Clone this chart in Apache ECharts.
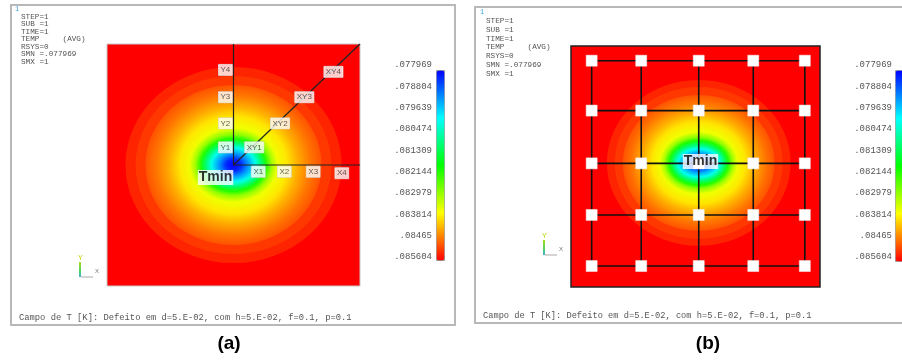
<!DOCTYPE html>
<html>
<head>
<meta charset="utf-8">
<script src="https://cdn.jsdelivr.net/npm/echarts@6/dist/echarts.min.js"></script>
<style>
  html, body { margin: 0; padding: 0; background: #fff; }
  #chart { width: 902px; height: 360px; }
</style>
</head>
<body>
<div id="chart"></div>
<script>
// Temperature scale of both contour plots
const tempMin = 0.077969;
const tempMax = 0.085604;
const scaleLabels = ['.077969', '.078804', '.079639', '.080474', '.081309',
                     '.082144', '.082979', '.083814', '.08465', '.085604'];
const palette = ['#0000ff', '#0080ff', '#00ffff', '#00ff80', '#00ff00',
                 '#80ff00', '#ffff00', '#ff8000', '#ff0000'];

// Iso-temperature levels shared by both cases (outermost first)
const ringTemp = [0.085337, 0.085184, 0.084993, 0.084726, 0.084306, 0.083886, 0.083581,
                  0.082932, 0.082016, 0.081023, 0.080030, 0.079038, 0.078274];
// 1 = colour blends from the next inner level, 0 = flat band
const ringBlend = [0, 0, 1, 1, 1, 1, 1, 1, 1, 1, 1, 1, 1];

// Case (a): ring half-axes (plate coordinates, % of side)
const centerA = [50, 50];
const ringRxA = [42.7, 38.7, 34.8, 30.4, 25.3, 21.3, 17.4, 15.0, 13.0, 11.1, 8.7, 5.5, 2.8];
const ringRyA = [40.5, 36.8, 33.1, 28.9, 24.0, 19.8, 15.3, 12.8, 10.7, 9.1, 7.0, 4.5, 2.5];

// Case (a): probe lines from the minimum and their probe points
const probeEndsA = [[50, 100], [100, 50], [100, 100]];
const probeNamesA = ['Y1', 'Y2', 'Y3', 'Y4', 'X1', 'X2', 'X3', 'X4', 'XY1', 'XY2', 'XY3', 'XY4'];
const probeXA = [46.8, 46.8, 46.8, 46.8, 59.8, 70.1, 81.5, 92.8, 58.2, 68.4, 78.0, 89.5];
const probeYA = [57.3, 67.2, 78.0, 89.3, 47.2, 47.2, 47.2, 46.6, 57.3, 67.2, 78.0, 88.5];
const tminA = [42.9, 44.8];

// Case (b): ring half-axes
const centerB = [51.3, 51.5];
const ringRxB = [36.9, 33.7, 30.5, 26.9, 22.5, 18.9, 15.7, 13.7, 12.0, 10.4, 8.4, 5.2, 2.4];
const ringRyB = [34.4, 31.5, 28.2, 24.5, 20.3, 16.6, 12.9, 10.8, 9.1, 7.5, 5.8, 3.7, 2.1];

// Case (b): 5x5 probe grid
const gridXB = [8.3, 28.2, 51.3, 73.2, 93.9];
const gridYB = [8.7, 29.9, 51.3, 73.2, 93.9];
const tminB = [52.0, 52.1];

const infoLines = ['STEP=1', 'SUB =1', 'TIME=1', 'TEMP     (AVG)', 'RSYS=0', 'SMN =.077969', 'SMX =1'];
const caption = 'Campo de T [K]: Defeito em d=5.E-02, com h=5.E-02, f=0.1, p=0.1';

function tempColor(t) {
  const n = Math.max(0, Math.min(1, (t - tempMin) / (tempMax - tempMin)));
  return echarts.color.lerp(n, palette);
}

// Each ring: [cx, cy, rx, ry, outer temp, inner temp, inner stop]
function ringItems(center, rx, ry, temps, blend) {
  return rx.map(function (r, i) {
    const hasInner = i + 1 < rx.length;
    const innerT = blend[i] ? (hasInner ? temps[i + 1] : tempMin) : temps[i];
    const stop = blend[i] && hasInner ? (ry[i + 1] / ry[i] + rx[i + 1] / r) / 2 : 0;
    return [center[0], center[1], r, ry[i], temps[i], innerT, stop];
  });
}

function renderRing(params, api) {
  const c = api.coord([api.value(0), api.value(1)]);
  const s = api.size([api.value(2), api.value(3)]);
  return {
    type: 'circle',
    x: c[0], y: c[1],
    scaleX: s[0] / s[1],
    shape: { cx: 0, cy: 0, r: s[1] },
    style: {
      fill: {
        type: 'radial', x: 0.5, y: 0.5, r: 0.5,
        colorStops: [
          { offset: api.value(6), color: tempColor(api.value(5)) },
          { offset: 1, color: tempColor(api.value(4)) }
        ]
      }
    },
    silent: true
  };
}

const monoFont = '"Liberation Mono", "DejaVu Sans Mono", monospace';
const sansFont = '"Liberation Sans", Arial, sans-serif';

function hiddenValueAxis(gridIndex) {
  return { type: 'value', gridIndex: gridIndex, min: 0, max: 100, show: false };
}

function scaleAxis(gridIndex) {
  return {
    type: 'category', gridIndex: gridIndex, data: scaleLabels, inverse: true,
    boundaryGap: false,
    axisLine: { show: false }, axisTick: { show: false }, splitLine: { show: false },
    axisLabel: { interval: 0, margin: 1, fontFamily: monoFont, fontSize: 9, color: '#555' }
  };
}

function tminLabel(axisIndex, pos) {
  return {
    type: 'scatter', xAxisIndex: axisIndex, yAxisIndex: axisIndex, silent: true,
    symbolSize: 0, z: 12,
    data: [[pos[0], pos[1], 'Tmin']],
    label: {
      show: true, position: 'inside', formatter: 'Tmin',
      fontFamily: sansFont, fontSize: 14, fontWeight: 'bold', color: '#000',
      backgroundColor: '#fff', padding: [1, 1, 0, 1]
    }
  };
}

const series = [];

// (a) temperature field
series.push({
  type: 'custom', xAxisIndex: 0, yAxisIndex: 0, clip: true, silent: true, z: 1,
  renderItem: renderRing,
  data: ringItems(centerA, ringRxA, ringRyA, ringTemp, ringBlend)
});
// (a) probe lines
probeEndsA.forEach(function (end) {
  series.push({
    type: 'line', xAxisIndex: 0, yAxisIndex: 0, silent: true, symbol: 'none', z: 3,
    lineStyle: { color: '#222', width: 1.2 },
    data: [centerA, end]
  });
});
// (a) probe labels
series.push({
  type: 'scatter', xAxisIndex: 0, yAxisIndex: 0, silent: true, symbolSize: 0, z: 10,
  data: probeNamesA.map(function (n, i) { return [probeXA[i], probeYA[i], n]; }),
  label: {
    show: true, position: 'inside', formatter: function (p) { return p.value[2]; },
    fontFamily: sansFont, fontSize: 8, color: '#333',
    backgroundColor: '#fff', borderColor: '#ccc', borderWidth: 0.5, padding: [2, 2, 1, 2]
  }
});
series.push(tminLabel(0, tminA));

// (b) temperature field
const fieldBIndex = series.length;
series.push({
  type: 'custom', xAxisIndex: 1, yAxisIndex: 1, clip: true, silent: true, z: 1,
  renderItem: renderRing,
  data: ringItems(centerB, ringRxB, ringRyB, ringTemp, ringBlend)
});
// (b) probe grid lines
gridYB.forEach(function (y) {
  series.push({
    type: 'line', xAxisIndex: 1, yAxisIndex: 1, silent: true, symbol: 'none', z: 3,
    lineStyle: { color: '#111', width: 1.6 },
    data: [[gridXB[0], y], [gridXB[gridXB.length - 1], y]]
  });
});
gridXB.forEach(function (x) {
  series.push({
    type: 'line', xAxisIndex: 1, yAxisIndex: 1, silent: true, symbol: 'none', z: 3,
    lineStyle: { color: '#111', width: 1.6 },
    data: [[x, gridYB[0]], [x, gridYB[gridYB.length - 1]]]
  });
});
// (b) probe points
const nodesB = [];
gridYB.forEach(function (y) { gridXB.forEach(function (x) { nodesB.push([x, y]); }); });
series.push({
  type: 'scatter', xAxisIndex: 1, yAxisIndex: 1, silent: true, z: 10,
  symbol: 'rect', symbolSize: 11,
  itemStyle: { color: '#fff', borderColor: '#eee', borderWidth: 0.5, opacity: 1 },
  data: nodesB
});
series.push(tminLabel(1, tminB));

// Frames, info block, captions and panel letters
function infoBlock(x, y, lh) {
  return {
    type: 'text', x: x, y: y, silent: true,
    style: { text: infoLines.join('\n'), font: '7.7px ' + monoFont, fill: '#555', lineHeight: lh }
  };
}
function triad(x, y) {
  return [
    { type: 'text', x: x - 2, y: y - 12, silent: true,
      style: { text: 'Y', font: '7px ' + sansFont, fill: '#b6d400' } },
    { type: 'line', silent: true, shape: { x1: x, y1: y - 5, x2: x, y2: y + 10 },
      style: { lineWidth: 2, stroke: { type: 'linear', x: 0, y: 0, x2: 0, y2: 1,
        colorStops: [{ offset: 0, color: '#c8e000' }, { offset: 0.6, color: '#4ad06a' }, { offset: 1, color: '#40a0ff' }] } } },
    { type: 'line', silent: true, shape: { x1: x + 1, y1: y + 10, x2: x + 13, y2: y + 10 },
      style: { lineWidth: 1, stroke: '#aaa' } },
    { type: 'text', x: x + 15, y: y + 1, silent: true,
      style: { text: 'X', font: '6px ' + sansFont, fill: '#777' } }
  ];
}

const graphic = [
  { type: 'rect', silent: true, shape: { x: 11, y: 5, width: 444, height: 320 },
    style: { fill: 'none', stroke: '#b8b8b8', lineWidth: 2 } },
  { type: 'rect', silent: true, shape: { x: 475, y: 7, width: 440, height: 316 },
    style: { fill: 'none', stroke: '#b8b8b8', lineWidth: 2 } },
  { type: 'text', x: 15, y: 6, silent: true, style: { text: '1', font: '7px ' + monoFont, fill: '#3aa8e8' } },
  { type: 'text', x: 480, y: 9, silent: true, style: { text: '1', font: '7px ' + monoFont, fill: '#3aa8e8' } },
  infoBlock(21, 13, 7.5),
  infoBlock(486, 17, 8.7),
  { type: 'text', x: 19, y: 313, silent: true,
    style: { text: caption, font: '8.8px ' + monoFont, fill: '#555' } },
  { type: 'text', x: 483, y: 311, silent: true,
    style: { text: caption, font: '8.7px ' + monoFont, fill: '#555' } },
  { type: 'text', x: 229, y: 344, silent: true,
    style: { text: '(a)', font: 'bold 19px ' + sansFont, fill: '#000', textAlign: 'center', textVerticalAlign: 'middle' } },
  { type: 'text', x: 708, y: 344, silent: true,
    style: { text: '(b)', font: 'bold 19px ' + sansFont, fill: '#000', textAlign: 'center', textVerticalAlign: 'middle' } }
].concat(triad(80, 267), triad(544, 245));

const option = {
  backgroundColor: '#fff',
  animation: false,
  grid: [
    { left: 107, top: 44, width: 253, height: 242, show: true,
      backgroundColor: '#ff0000', borderColor: '#c8c8c8', borderWidth: 1 },
    { left: 571, top: 46, width: 249, height: 241, show: true,
      backgroundColor: '#ff0000', borderColor: '#222', borderWidth: 1.5 },
    { left: 433, top: 65, width: 1, height: 192 },
    { left: 893, top: 65, width: 1, height: 192 }
  ],
  xAxis: [hiddenValueAxis(0), hiddenValueAxis(1), hiddenValueAxis(2), hiddenValueAxis(3)],
  yAxis: [hiddenValueAxis(0), hiddenValueAxis(1), scaleAxis(2), scaleAxis(3)],
  visualMap: [
    { type: 'continuous', min: tempMin, max: tempMax, inverse: true, calculable: false,
      seriesIndex: 0, dimension: 4, hoverLink: false,
      left: 436, top: 70, itemWidth: 8, itemHeight: 190, padding: 0,
      borderColor: '#999', borderWidth: 1, inRange: { color: palette } },
    { type: 'continuous', min: tempMin, max: tempMax, inverse: true, calculable: false,
      seriesIndex: fieldBIndex, dimension: 4, hoverLink: false,
      left: 895, top: 70, itemWidth: 8, itemHeight: 191, padding: 0,
      borderColor: '#999', borderWidth: 1, inRange: { color: palette } }
  ],
  graphic: graphic,
  series: series
};

const chart = echarts.init(document.getElementById('chart'), null, { renderer: 'canvas' });
chart.setOption(option);
</script>
</body>
</html>
